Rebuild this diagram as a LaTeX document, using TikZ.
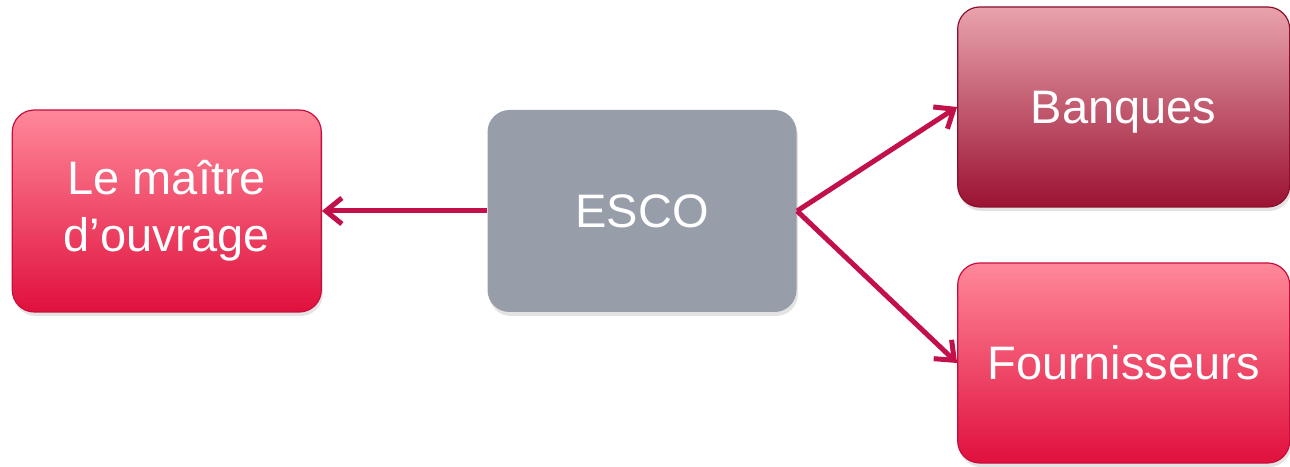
\documentclass[tikz,border=0pt]{standalone}
\usepackage{fontspec}
\setmainfont{Liberation Sans}
\usetikzlibrary{positioning,arrows.meta,shadows}

\definecolor{linkred}{HTML}{C2104A}
\definecolor{pinktop}{HTML}{FF8899}
\definecolor{pinkbot}{HTML}{E0103D}
\definecolor{pinkline}{HTML}{C80E3E}
\definecolor{winetop}{HTML}{E9A3AC}
\definecolor{winebot}{HTML}{9B1233}
\definecolor{wineline}{HTML}{8C0F2E}
\definecolor{escogray}{HTML}{979EA9}

\begin{document}
\begin{tikzpicture}[x=1pt,y=1pt,
    link/.style={draw=linkred,line width=5pt,-{Straight Barb[length=16pt,width=26pt]}},
    box node/.style={rectangle,rounded corners=22pt,minimum width=309pt,minimum height=202pt,
        align=center,text=white,font=\fontsize{47}{57}\selectfont,line width=1.2pt,
        drop shadow={shadow xshift=1.5pt,shadow yshift=-4pt,opacity=0.22}},
    pink node/.style={box node,draw=pinkline,top color=pinktop,bottom color=pinkbot},
    wine node/.style={box node,draw=wineline,top color=winetop,bottom color=winebot}]

    \useasboundingbox (0,0) rectangle (1290,466);

    \node[box node, fill=escogray] (2) at (642,255) {ESCO};

    \node[pink node] (1) [left=165pt of 2]{Le maître\\d’ouvrage};
    \node[wine node, minimum width=332pt, minimum height=200pt, text depth=0pt] (3) [right=160pt of 2, yshift=104pt]{Banques};
    \node[pink node, minimum width=332pt, minimum height=200pt] (4) [right=160pt of 2, yshift=-152pt]{Fournisseurs};

    \draw[link] (2.west) -- (1.east);
    \draw[link] (2.east) -- (3.west);
    \draw[link] (2.east) -- (4.west);
\end{tikzpicture}
\end{document}
